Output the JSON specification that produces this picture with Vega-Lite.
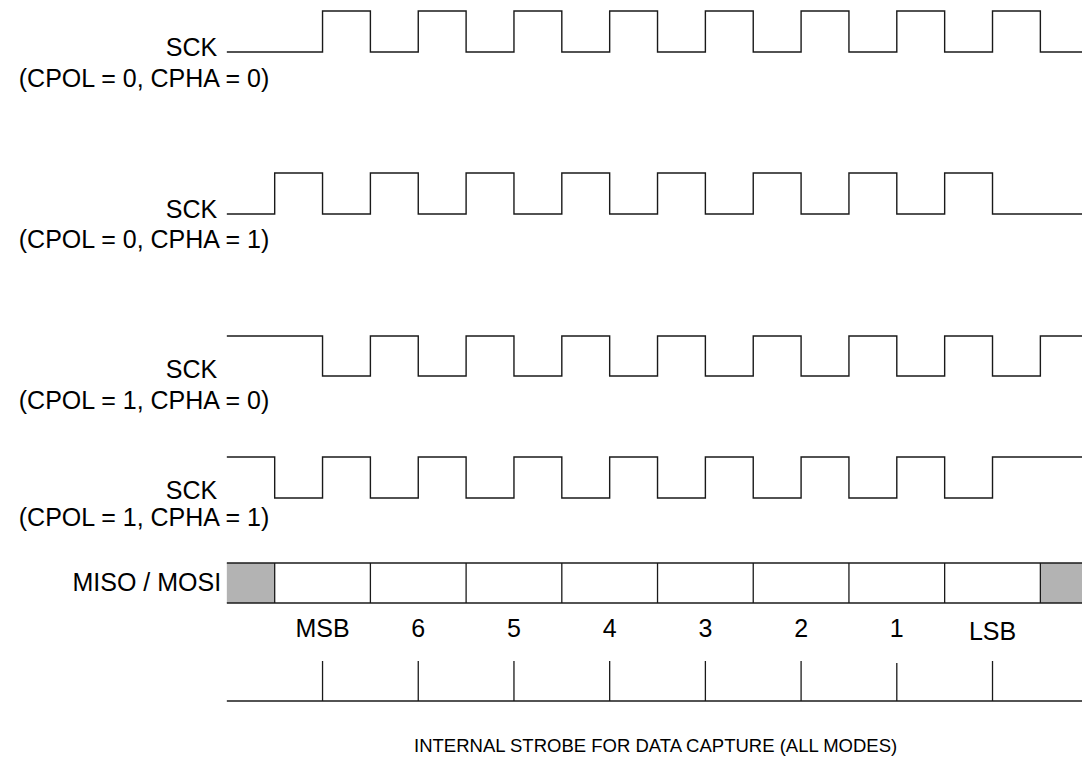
{
  "$schema": "https://vega.github.io/schema/vega-lite/v6.json",
  "description": "SPI clock modes timing diagram",
  "width": 1085,
  "height": 768,
  "autosize": {"type": "fit", "contains": "padding"},
  "padding": 0,
  "datasets": {
    "clock": [
      {"sig": "A", "t": 0, "y": 52}, {"sig": "A", "t": 2, "y": 11}, {"sig": "A", "t": 3, "y": 52},
      {"sig": "A", "t": 4, "y": 11}, {"sig": "A", "t": 5, "y": 52}, {"sig": "A", "t": 6, "y": 11},
      {"sig": "A", "t": 7, "y": 52}, {"sig": "A", "t": 8, "y": 11}, {"sig": "A", "t": 9, "y": 52},
      {"sig": "A", "t": 10, "y": 11}, {"sig": "A", "t": 11, "y": 52}, {"sig": "A", "t": 12, "y": 11},
      {"sig": "A", "t": 13, "y": 52}, {"sig": "A", "t": 14, "y": 11}, {"sig": "A", "t": 15, "y": 52},
      {"sig": "A", "t": 16, "y": 11}, {"sig": "A", "t": 17, "y": 52}, {"sig": "A", "t": 17.87, "y": 52},

      {"sig": "B", "t": 0, "y": 214}, {"sig": "B", "t": 1, "y": 173}, {"sig": "B", "t": 2, "y": 214},
      {"sig": "B", "t": 3, "y": 173}, {"sig": "B", "t": 4, "y": 214}, {"sig": "B", "t": 5, "y": 173},
      {"sig": "B", "t": 6, "y": 214}, {"sig": "B", "t": 7, "y": 173}, {"sig": "B", "t": 8, "y": 214},
      {"sig": "B", "t": 9, "y": 173}, {"sig": "B", "t": 10, "y": 214}, {"sig": "B", "t": 11, "y": 173},
      {"sig": "B", "t": 12, "y": 214}, {"sig": "B", "t": 13, "y": 173}, {"sig": "B", "t": 14, "y": 214},
      {"sig": "B", "t": 15, "y": 173}, {"sig": "B", "t": 16, "y": 214}, {"sig": "B", "t": 17.87, "y": 214},

      {"sig": "C", "t": 0, "y": 336}, {"sig": "C", "t": 2, "y": 376}, {"sig": "C", "t": 3, "y": 336},
      {"sig": "C", "t": 4, "y": 376}, {"sig": "C", "t": 5, "y": 336}, {"sig": "C", "t": 6, "y": 376},
      {"sig": "C", "t": 7, "y": 336}, {"sig": "C", "t": 8, "y": 376}, {"sig": "C", "t": 9, "y": 336},
      {"sig": "C", "t": 10, "y": 376}, {"sig": "C", "t": 11, "y": 336}, {"sig": "C", "t": 12, "y": 376},
      {"sig": "C", "t": 13, "y": 336}, {"sig": "C", "t": 14, "y": 376}, {"sig": "C", "t": 15, "y": 336},
      {"sig": "C", "t": 16, "y": 376}, {"sig": "C", "t": 17, "y": 336}, {"sig": "C", "t": 17.87, "y": 336},

      {"sig": "D", "t": 0, "y": 457}, {"sig": "D", "t": 1, "y": 498}, {"sig": "D", "t": 2, "y": 457},
      {"sig": "D", "t": 3, "y": 498}, {"sig": "D", "t": 4, "y": 457}, {"sig": "D", "t": 5, "y": 498},
      {"sig": "D", "t": 6, "y": 457}, {"sig": "D", "t": 7, "y": 498}, {"sig": "D", "t": 8, "y": 457},
      {"sig": "D", "t": 9, "y": 498}, {"sig": "D", "t": 10, "y": 457}, {"sig": "D", "t": 11, "y": 498},
      {"sig": "D", "t": 12, "y": 457}, {"sig": "D", "t": 13, "y": 498}, {"sig": "D", "t": 14, "y": 457},
      {"sig": "D", "t": 15, "y": 498}, {"sig": "D", "t": 16, "y": 457}, {"sig": "D", "t": 17.87, "y": 457}
    ],
    "cells": [
      {"t": 0, "t2": 1, "y": 563, "y2": 603, "kind": "idle"},
      {"t": 1, "t2": 3, "y": 563, "y2": 603, "kind": "bit"},
      {"t": 3, "t2": 5, "y": 563, "y2": 603, "kind": "bit"},
      {"t": 5, "t2": 7, "y": 563, "y2": 603, "kind": "bit"},
      {"t": 7, "t2": 9, "y": 563, "y2": 603, "kind": "bit"},
      {"t": 9, "t2": 11, "y": 563, "y2": 603, "kind": "bit"},
      {"t": 11, "t2": 13, "y": 563, "y2": 603, "kind": "bit"},
      {"t": 13, "t2": 15, "y": 563, "y2": 603, "kind": "bit"},
      {"t": 15, "t2": 17, "y": 563, "y2": 603, "kind": "bit"},
      {"t": 17, "t2": 17.87, "y": 563, "y2": 603, "kind": "idle"}
    ],
    "dividers": [
      {"t": 1, "y": 563, "y2": 603}, {"t": 3, "y": 563, "y2": 603}, {"t": 5, "y": 563, "y2": 603},
      {"t": 7, "y": 563, "y2": 603}, {"t": 9, "y": 563, "y2": 603}, {"t": 11, "y": 563, "y2": 603},
      {"t": 13, "y": 563, "y2": 603}, {"t": 15, "y": 563, "y2": 603}, {"t": 17, "y": 563, "y2": 603}
    ],
    "strobes": [
      {"t": 2, "y": 661, "y2": 701}, {"t": 4, "y": 661, "y2": 701}, {"t": 6, "y": 661, "y2": 701},
      {"t": 8, "y": 661, "y2": 701}, {"t": 10, "y": 661, "y2": 701}, {"t": 12, "y": 661, "y2": 701},
      {"t": 14, "y": 663, "y2": 701}, {"t": 16, "y": 661, "y2": 701}
    ],
    "rails": [
      {"t": 0, "t2": 17.87, "y": 563},
      {"t": 0, "t2": 17.87, "y": 603},
      {"t": 0, "t2": 17.87, "y": 701}
    ],
    "labels": [
      {"role": "signal", "text": "SCK", "t": -0.2, "y": 48},
      {"role": "signal", "text": "SCK", "t": -0.2, "y": 210},
      {"role": "signal", "text": "SCK", "t": -0.2, "y": 370},
      {"role": "signal", "text": "SCK", "t": -0.2, "y": 491},
      {"role": "signal", "text": "MISO / MOSI", "t": -0.12, "y": 583},
      {"role": "mode", "text": "(CPOL = 0, CPHA = 0)", "t": -1.73, "y": 79},
      {"role": "mode", "text": "(CPOL = 0, CPHA = 1)", "t": -1.73, "y": 240},
      {"role": "mode", "text": "(CPOL = 1, CPHA = 0)", "t": -1.73, "y": 401},
      {"role": "mode", "text": "(CPOL = 1, CPHA = 1)", "t": -1.73, "y": 518},
      {"role": "bit", "text": "MSB", "t": 2, "y": 629},
      {"role": "bit", "text": "6", "t": 4, "y": 629},
      {"role": "bit", "text": "5", "t": 6, "y": 629},
      {"role": "bit", "text": "4", "t": 8, "y": 629},
      {"role": "bit", "text": "3", "t": 10, "y": 629},
      {"role": "bit", "text": "2", "t": 12, "y": 629},
      {"role": "bit", "text": "1", "t": 14, "y": 629},
      {"role": "bit", "text": "LSB", "t": 16, "y": 632},
      {"role": "caption", "text": "INTERNAL STROBE FOR DATA CAPTURE (ALL MODES)", "t": 8.96, "y": 746}
    ]
  },
  "encoding": {
    "x": {"field": "t", "type": "quantitative", "axis": null,
          "scale": {"domain": [-4.74, 17.87], "nice": false, "zero": false}},
    "y": {"field": "y", "type": "quantitative", "axis": null,
          "scale": {"domain": [0, 768], "reverse": true, "nice": false, "zero": false}}
  },
  "layer": [
    {
      "data": {"name": "cells"},
      "mark": {"type": "rect", "strokeWidth": 0},
      "encoding": {
        "x2": {"field": "t2"},
        "y2": {"field": "y2"},
        "color": {"field": "kind", "type": "nominal", "legend": null,
                  "scale": {"domain": ["idle", "bit"], "range": ["#b3b3b3", "#ffffff"]}}
      }
    },
    {
      "data": {"name": "dividers"},
      "mark": {"type": "rule", "color": "#1a1a1a", "strokeWidth": 1.3},
      "encoding": {"y2": {"field": "y2"}}
    },
    {
      "data": {"name": "rails"},
      "mark": {"type": "rule", "color": "#1a1a1a", "strokeWidth": 1.3},
      "encoding": {"x2": {"field": "t2"}}
    },
    {
      "data": {"name": "strobes"},
      "mark": {"type": "rule", "color": "#1a1a1a", "strokeWidth": 1.3},
      "encoding": {"y2": {"field": "y2"}}
    },
    {
      "data": {"name": "clock"},
      "mark": {"type": "line", "interpolate": "step-after", "color": "#1a1a1a", "strokeWidth": 1.4},
      "encoding": {
        "detail": {"field": "sig", "type": "nominal"},
        "order": {"field": "t", "type": "quantitative"}
      }
    },
    {
      "data": {"name": "labels"},
      "transform": [{"filter": "datum.role == 'signal'"}],
      "mark": {"type": "text", "align": "right", "baseline": "middle", "font": "Liberation Sans", "fontSize": 25, "color": "#000"},
      "encoding": {"text": {"field": "text"}}
    },
    {
      "data": {"name": "labels"},
      "transform": [{"filter": "datum.role == 'mode'"}],
      "mark": {"type": "text", "align": "center", "baseline": "middle", "font": "Liberation Sans", "fontSize": 25, "color": "#000"},
      "encoding": {"text": {"field": "text"}}
    },
    {
      "data": {"name": "labels"},
      "transform": [{"filter": "datum.role == 'bit'"}],
      "mark": {"type": "text", "align": "center", "baseline": "middle", "font": "Liberation Sans", "fontSize": 25, "color": "#000"},
      "encoding": {"text": {"field": "text"}}
    },
    {
      "data": {"name": "labels"},
      "transform": [{"filter": "datum.role == 'caption'"}],
      "mark": {"type": "text", "align": "center", "baseline": "middle", "font": "Liberation Sans", "fontSize": 18.5, "color": "#000"},
      "encoding": {"text": {"field": "text"}}
    }
  ],
  "config": {
    "view": {"stroke": null}
  }
}
